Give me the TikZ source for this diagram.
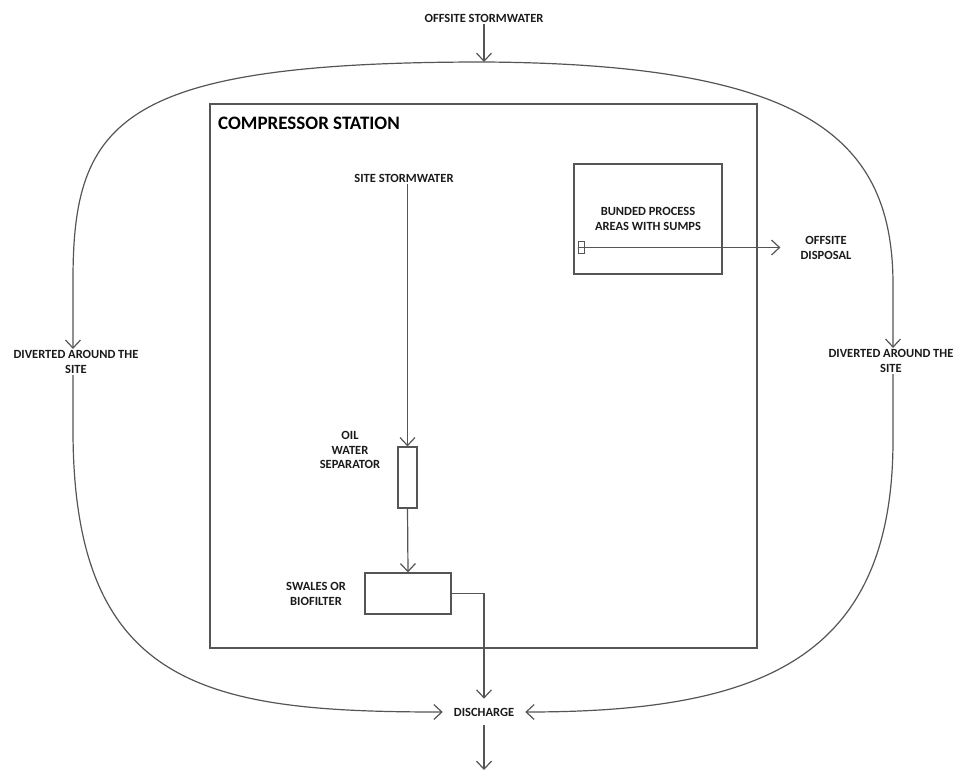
\documentclass[tikz,border=0pt]{standalone}
\usepackage{fontspec}
\setmainfont{Carlito}
\usetikzlibrary{arrows.meta}
\definecolor{lc}{HTML}{555555}
\definecolor{txt}{HTML}{1A1A1A}
\tikzset{
  lbl/.style={font=\bfseries\fontsize{12.5}{14.5}\selectfont, text=txt, align=center, inner sep=1.5pt},
  ttl/.style={font=\bfseries\fontsize{19}{22}\selectfont, text=black, inner sep=0pt, anchor=west},
  ln/.style={draw=lc, line width=1.2pt},
  arr/.style={ln, -{Straight Barb[length=8pt,width=15pt]}},
  box/.style={draw=lc, line width=1.2pt, inner sep=0pt},
}
\begin{document}
\begin{tikzpicture}[x=1pt,y=-1pt]
\useasboundingbox (0,0) rectangle (955,771);
% coordinates
\coordinate (top) at (484,62);
\coordinate (lx) at (73,0);
\coordinate (rx) at (893,0);
\coordinate (bot) at (484,770);
% labels
\node[lbl] (offsw) at (484,18) {OFFSITE STORMWATER};
\node[lbl] (ldiv) at (76,362) {DIVERTED AROUND THE\\SITE};
\node[lbl] (rdiv) at (891,361) {DIVERTED AROUND THE\\SITE};
\node[lbl, inner xsep=11pt, inner ysep=9pt] (dis) at (484,712) {DISCHARGE};
% compressor station
\node[box, minimum width=547pt, minimum height=544pt] (cs) at (483.5,376) {};
\node[ttl] (cst) at (218,123) {COMPRESSOR STATION};
\node[lbl] (ssw) at (404,178) {SITE STORMWATER};
\node[box, lbl, minimum width=148pt, minimum height=110pt] (bund) at (648,219) {BUNDED PROCESS\\AREAS WITH SUMPS};
\node[box, line width=0.8pt, minimum width=6pt, minimum height=12pt] (pump) at (581,247.5) {};
\draw[ln, line width=0.7pt] (pump.west) -- (pump.east);
\node[lbl, inner xsep=20pt] (od) at (826,248) {OFFSITE\\DISPOSAL};
\node[box, minimum width=19pt, minimum height=61pt] (ows) at (407.5,477.5) {};
\node[lbl] (owsl) at (350,450) {OIL\\WATER\\SEPARATOR};
\node[box, minimum width=86pt, minimum height=41pt] (swl) at (408,593.5) {};
\node[lbl, align=center] (swll) at (316,594) {SWALES OR\\BIOFILTER};
% connectors
\draw[arr] (offsw) -- (top);
\draw[arr] (top) .. controls (120,62) and (73,120) .. (73,280) -- (ldiv.north -| lx);
\draw[arr] (top) .. controls (810,64) and (893,140) .. (893,285) -- (rdiv.north -| rx);
\draw[arr] (ldiv.south -| lx) -- (73,430) .. controls (73,690) and (210,712) .. (dis.west);
\draw[arr] (rdiv.south -| rx) -- (893,440) .. controls (893,660) and (760,712) .. (dis.east);
\draw[arr] (dis.south) -- (bot);
\draw[arr] (ssw.south -| ows.north) -- (ows.north);
\draw[arr] (ows.south) -- (swl.north);
\draw[arr] (swl.east) -| (dis.north);
\draw[arr] (pump.east) -- (pump.east -| od.west);
\end{tikzpicture}
\end{document}
